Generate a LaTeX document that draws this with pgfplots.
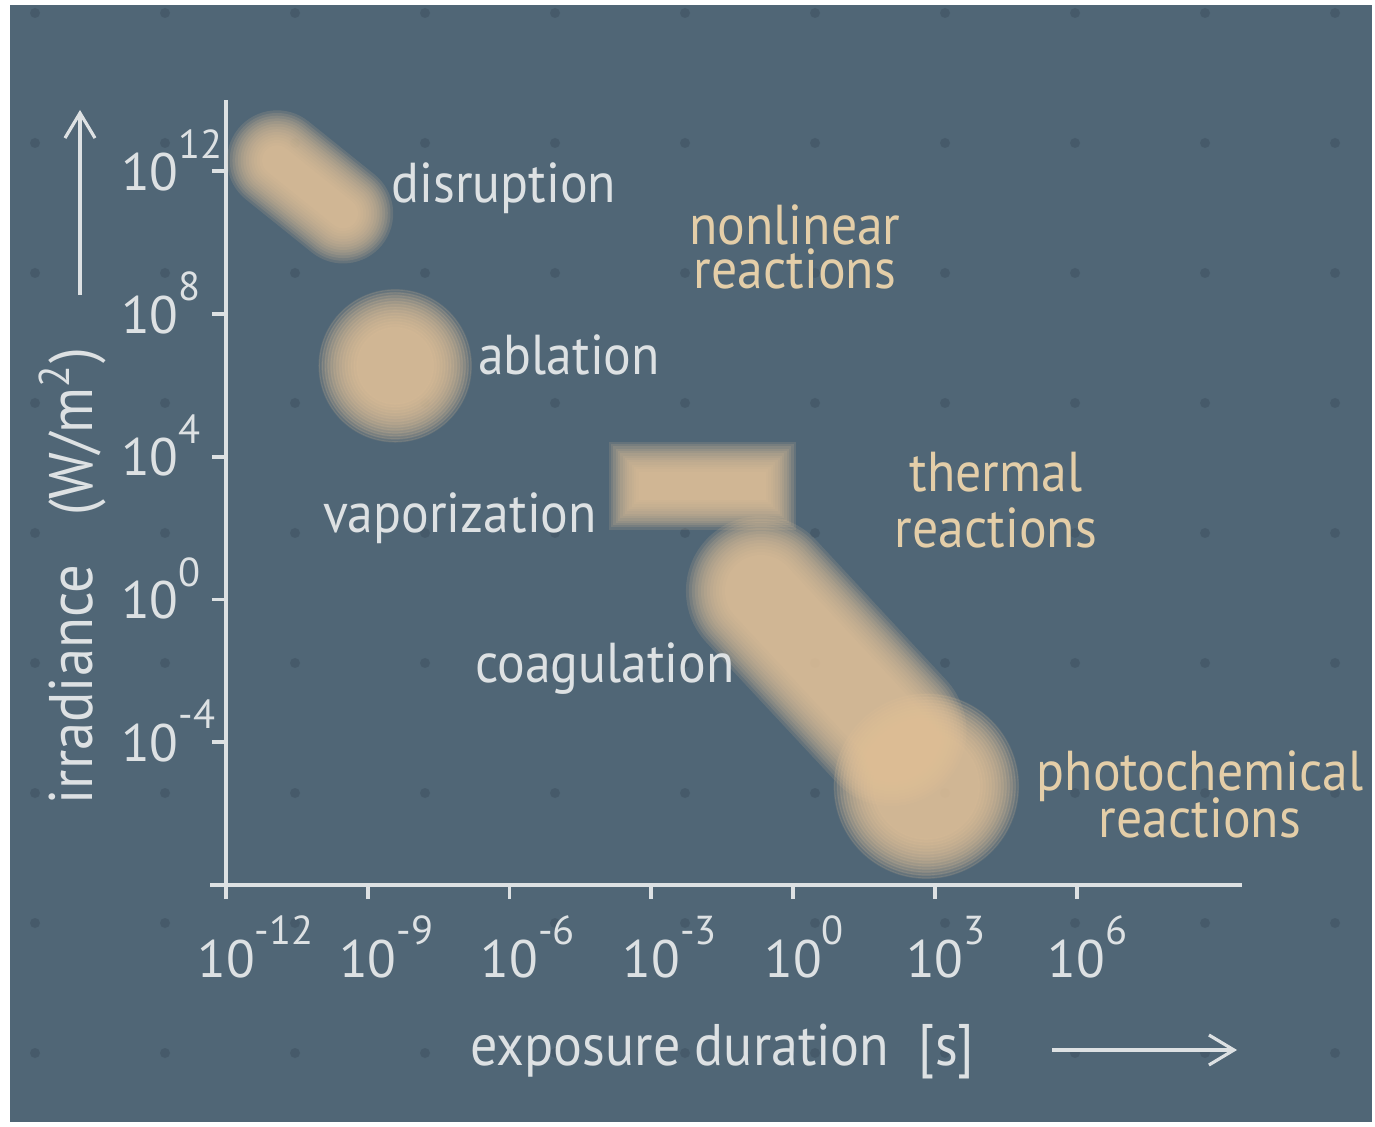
\documentclass[border=0pt]{standalone}
\usepackage{fontspec}
\setmainfont{PT Sans}
\newfontfamily\lab{PT Sans}[FakeStretch=0.92]
\usepackage{pgfplots}
\pgfplotsset{compat=1.18}
\usetikzlibrary{arrows.meta}

\definecolor{bg}{RGB}{80,102,118}
\definecolor{dotc}{RGB}{52,70,84}
\definecolor{fg}{RGB}{221,225,227}
\definecolor{warm}{RGB}{228,206,168}
\definecolor{blob}{RGB}{226,194,154}

% 10 with a raised exponent that does not count for the label width
\newcommand{\tk}[1]{10\rlap{\raisebox{9.2pt}{\fontsize{11.5}{12}\selectfont #1}}}

\begin{document}
\begin{tikzpicture}
\fill[white] (0,0) rectangle (13.75,11.26);
\fill[bg] (0.10,0.04) rectangle (13.72,11.21);
\foreach \i in {0,...,10}
  \foreach \j in {0,...,8}
    {\fill[dotc, opacity=0.35] (0.35+1.3*\i, 11.13-1.3*\j) circle (0.05);}

\begin{axis}[
  at={(2.26cm,2.41cm)}, anchor=south west,
  scale only axis, width=10.16cm, height=7.85cm,
  xmin=-12, xmax=9.5, ymin=-8, ymax=14,
  clip=false,
  axis lines*=left,
  axis line style={fg, line width=1.2pt},
  tick style={fg, line width=1.1pt},
  major tick length=0.14cm, tick align=outside,
  xtick={-12,-9,-6,-3,0,3,6},
  xticklabels={\tk{-12},\tk{-9},\tk{-6},\tk{-3},\tk{0},\tk{3},\tk{6}},
  ytick={-4,0,4,8,12},
  yticklabels={\tk{-4},\tk{0},\tk{4},\tk{8},\tk{12}},
  every tick label/.append style={font=\fontsize{15}{17}\selectfont, text=fg},
  xticklabel style={anchor=base, yshift=-0.78cm},
  yticklabel style={anchor=base east, xshift=-0.21cm, yshift=-0.19cm},
  blur/.style={color=blob, draw=blob, opacity=0.15, forget plot, mark=none},
  dotblur/.style={color=blob, only marks, mark=*, forget plot,
    mark options={draw=none, fill=blob, opacity=0.15}},
]
% disruption
\pgfplotsinvokeforeach{0,...,13}{
  \addplot[blur, line cap=round, line width={(100-5.4*#1)*0.2845pt}]
    coordinates {(-10.92,12.31) (-9.52,10.82)};
}
% ablation
\pgfplotsinvokeforeach{0,...,13}{
  \addplot[dotblur, mark size={(76-2.9*#1)*0.2845pt}] coordinates {(-8.42,6.55)};
}
% vaporization
\pgfplotsinvokeforeach{0,...,13}{
  \addplot[blur, line cap=rect, line width={(88-4.6*#1)*0.2845pt}]
    coordinates {(-2.97,3.19) (-0.87,3.19)};
}
% coagulation
\pgfplotsinvokeforeach{0,...,13}{
  \addplot[blur, line cap=round, line width={(150-6.0*#1)*0.2845pt}]
    coordinates {(-0.68,0.24) (2.08,-3.69)};
}
% photochemical
\pgfplotsinvokeforeach{0,...,13}{
  \addplot[dotblur, mark size={(92-3.0*#1)*0.2845pt}] coordinates {(2.82,-5.23)};
}
\draw[fg, line width=1.2pt] (axis cs:-12.34,-8) -- (axis cs:-12,-8);
\end{axis}

\begin{scope}[every node/.style={font=\lab\fontsize{16}{18}\selectfont, inner sep=0pt}]
\node[fg, anchor=base] at (5.04,9.23) {disruption};
\node[fg, anchor=base] at (5.69,7.51) {ablation};
\node[fg, anchor=base] at (4.60,5.93) {vaporization};
\node[fg, anchor=base] at (6.05,4.43) {coagulation};
\node[warm, anchor=base] at (9.96,6.34) {thermal};
\node[warm, anchor=base] at (9.96,5.78) {reactions};
\node[warm, anchor=base] at (12.00,3.35) {photochemical};
\node[warm, anchor=base] at (12.00,2.89) {reactions};
\end{scope}
\begin{scope}[every node/.style={font=\lab\fontsize{16}{11.5}\selectfont, inner sep=0pt, align=center}]
\node[warm, anchor=base] at (7.95,8.37) {nonlinear\\reactions};
\end{scope}
\node[fg, anchor=base west, inner sep=0pt, font=\lab\fontsize{16.7}{18}\selectfont]
  at (4.70,0.61) {exposure duration\hspace{0.5em}[s]};
\node[fg, anchor=base west, rotate=90, inner sep=0pt, font=\lab\fontsize{17.5}{19}\selectfont]
  at (0.92,3.21) {irradiance\hspace{0.8em}(W/m\textsuperscript{2})};
\draw[fg, line width=0.9pt, -{Straight Barb[length=2.5mm, width=3mm]}] (0.80,8.31) -- (0.80,10.16);
\draw[fg, line width=0.9pt, -{Straight Barb[length=2.5mm, width=3mm]}] (10.52,0.76) -- (12.37,0.76);
\pgfresetboundingbox
\useasboundingbox (0,0) rectangle (13.75,11.26);
\end{tikzpicture}
\end{document}
